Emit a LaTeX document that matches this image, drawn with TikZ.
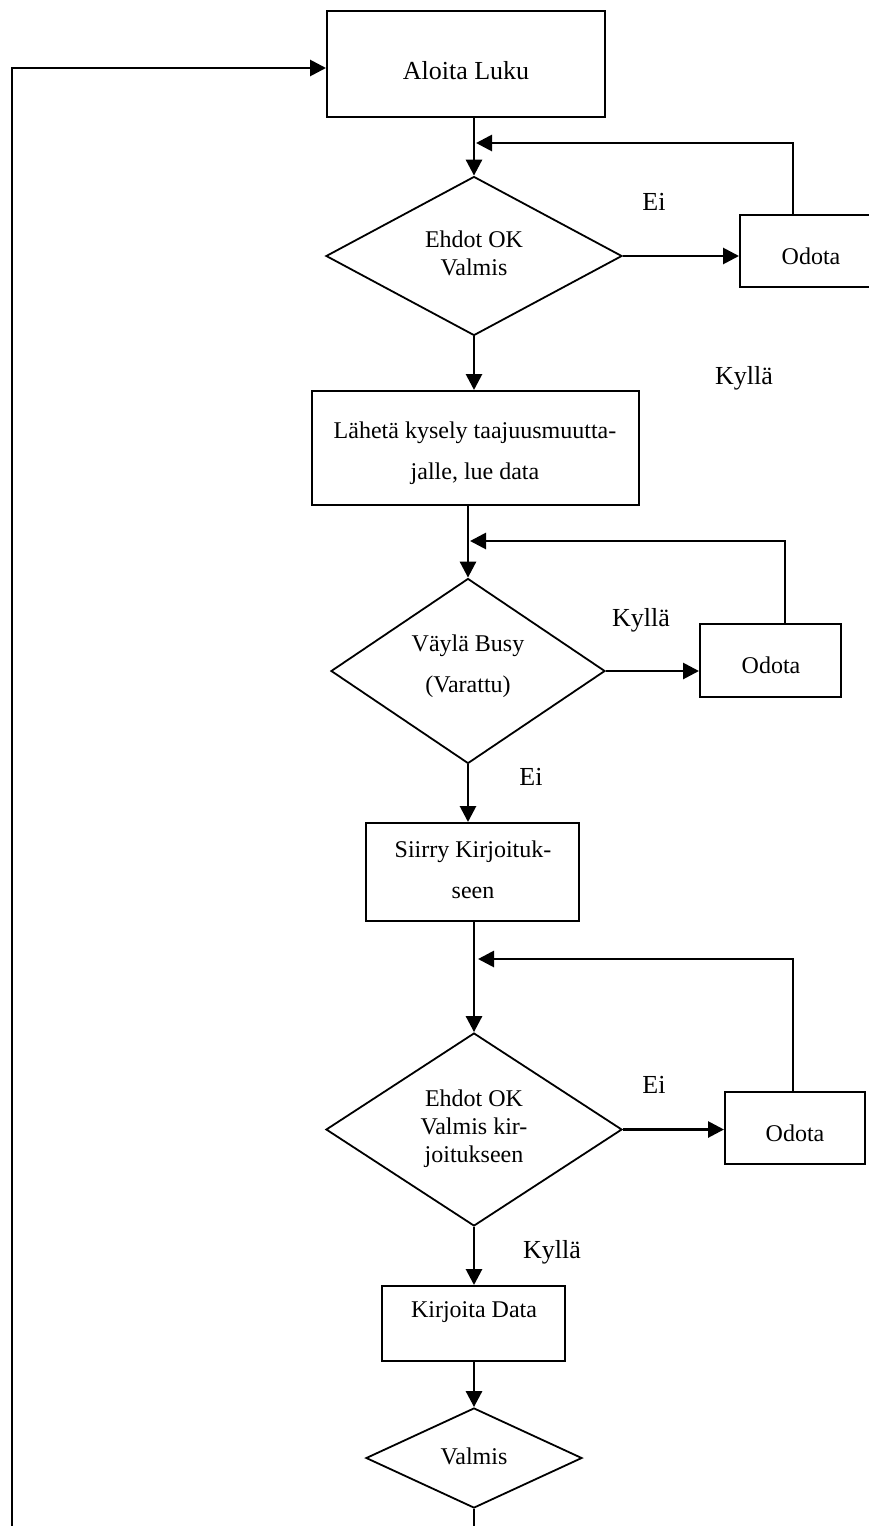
\documentclass[tikz,border=0pt]{standalone}
\usepackage{fontspec}
\setmainfont{Liberation Serif}
\usetikzlibrary{shapes.geometric,arrows.meta}
\begin{document}
\begin{tikzpicture}[x=1pt,y=-1pt,
 box/.style={draw,line width=2pt,inner sep=0pt,rectangle},
 dia/.style={draw,line width=1.8pt,inner sep=0pt,diamond},
 txt/.style={inner sep=0pt,align=center,font=\fontsize{24}{28}\selectfont},
 lbl/.style={inner sep=0pt,font=\fontsize{26}{30}\selectfont},
 arr/.style={line width=2.8pt,-{Triangle[length=16pt,width=16pt]}},
 back/.style={line width=1.8pt},
 ]
\useasboundingbox (0,0) rectangle (869,1526);
\clip (0,0) rectangle (869,1526);

% start box
\node[box,minimum width=278pt,minimum height=106pt] (a) at (466,64) {};
\node[txt,font=\fontsize{26}{30}\selectfont] (ta) at (466,71) {Aloita Luku};

% first decision
\node[dia,minimum width=296pt,minimum height=159pt] (d1) at (474,256) {};
\node[txt] (t1) at (474,253) {Ehdot OK\\Valmis};
\node[box,minimum width=140pt,minimum height=72pt] (o1) at (810,251) {};
\node[txt] (to1) at (811,256) {Odota};
\node[lbl] (e1) at (654,202) {Ei};
\node[lbl] (k1) at (744,378) {Kyllä};

% query box
\node[box,minimum width=327pt,minimum height=114pt] (b2) at (475.5,448) {};
\node[txt] (tb2) at (475,453) {Lähetä kysely taajuusmuutta-\\[13pt]jalle, lue data};

% bus busy decision
\node[dia,minimum width=274pt,minimum height=185pt] (d2) at (468,671) {};
\node[txt] (t2) at (468,666) {Väylä Busy\\[13pt](Varattu)};
\node[box,minimum width=141pt,minimum height=73pt] (o2) at (770.5,660.5) {};
\node[txt] (to2) at (771,665) {Odota};
\node[lbl] (k2) at (641,620) {Kyllä};
\node[lbl] (e2) at (531,777) {Ei};

% move to write
\node[box,minimum width=213pt,minimum height=98pt] (b3) at (472.5,872) {};
\node[txt] (tb3) at (473,870) {Siirry Kirjoituk-\\[13pt]seen};

% write decision
\node[dia,minimum width=296pt,minimum height=193pt] (d3) at (474,1129.5) {};
\node[txt] (t3) at (474,1129) {Ehdot OK\\Valmis kir-\\joitukseen};
\node[box,minimum width=140pt,minimum height=72pt] (o3) at (795,1128) {};
\node[txt] (to3) at (795,1133) {Odota};
\node[lbl] (e3) at (654,1085) {Ei};
\node[lbl] (k3) at (552,1252) {Kyllä};

% write data
\node[box,minimum width=183pt,minimum height=75pt] (b4) at (473.5,1323.5) {};
\node[txt] (tb4) at (474,1312) {Kirjoita Data};

% done
\node[dia,minimum width=216pt,minimum height=100pt] (d4) at (474,1458) {};
\node[txt] (t4) at (474,1456) {Valmis};

% connectors
\draw[arr] (d1.north |- a.south) -- (d1.north);
\draw[arr] (d1.east) -- (d1.east -| o1.west);
\coordinate (f1) at (793,143);
\draw[back] (f1 |- o1.north) -- (f1);
\draw[arr] ([xshift=0.9pt]f1) -- ([xshift=2pt]f1 -| d1.north);
\draw[arr] (d1.south) -- (d1.south |- b2.north);

\draw[arr] (d2.north |- b2.south) -- (d2.north);
\draw[arr] (d2.east) -- (d2.east -| o2.west);
\coordinate (f2) at (785,541);
\draw[back] (f2 |- o2.north) -- (f2);
\draw[arr] ([xshift=0.9pt]f2) -- ([xshift=2pt]f2 -| d2.north);
\draw[arr] (d2.south) -- (d2.south |- b3.north);

\draw[arr] (d3.north |- b3.south) -- (d3.north);
\draw[arr] (d3.east) -- (d3.east -| o3.west);
\coordinate (f3) at (793,959);
\draw[back] (f3 |- o3.north) -- (f3);
\draw[arr] ([xshift=0.9pt]f3) -- ([xshift=4pt]f3 -| d3.north);
\draw[arr] (d3.south) -- (d3.south |- b4.north);

\draw[arr] (d4.north |- b4.south) -- (d4.north);
\coordinate (endd) at (474,1530);
\draw[line width=2.4pt] (d4.south) -- (endd);

\coordinate (lb) at (12,1530);
\coordinate (l1) at (12,68);
\draw[arr] (lb) -- (l1) -- (l1 -| a.west);
\end{tikzpicture}
\end{document}
